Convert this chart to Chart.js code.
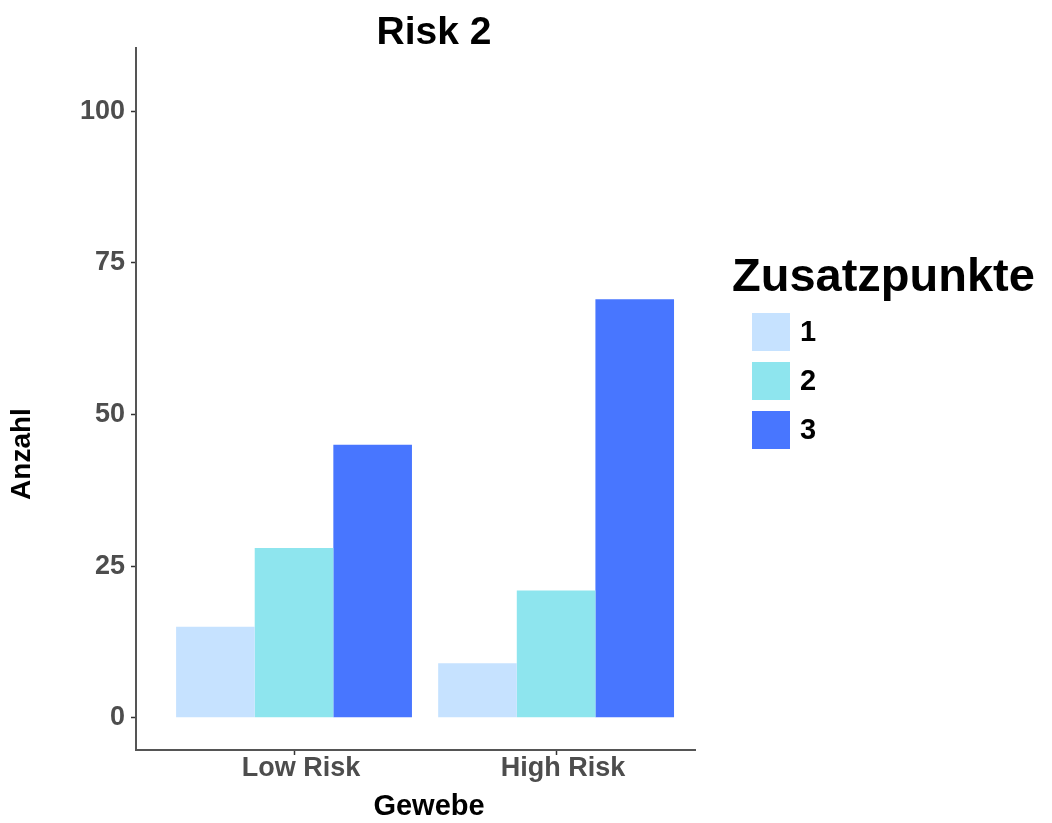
<!DOCTYPE html>
<html>
<head>
<meta charset="utf-8">
<script src="https://cdn.jsdelivr.net/npm/chart.js@4"></script>
<style>
  html, body { margin: 0; background: #fff; }
</style>
</head>
<body>
<canvas id="chart" width="1052" height="823"></canvas>
<script>
const categories = ["Low Risk", "High Risk"];
const seriesNames = ["1", "2", "3"];
const seriesColors = ["#C6E2FF", "#8EE5EE", "#4876FF"];
const counts1 = [15, 9];
const counts2 = [28, 21];
const counts3 = [45, 69];
const yTicks = [0, 25, 50, 75, 100];

const FONT = "'Liberation Sans', Arial, sans-serif";
const AXIS_GREY = "#4d4d4d";

const toPoints = (vals) => vals.map((v, i) => ({ x: i + 1, y: v }));

const datasets = [counts1, counts2, counts3].map((vals, i) => ({
  label: seriesNames[i],
  data: toPoints(vals),
  backgroundColor: seriesColors[i],
  borderWidth: 0,
  categoryPercentage: 0.9,
  barPercentage: 1,
}));

// titles and legend drawn by hand so they sit where ggplot put them
const decorations = {
  id: "decorations",
  afterDraw(chart) {
    const ctx = chart.ctx;
    ctx.save();
    ctx.fillStyle = "#000";
    ctx.textAlign = "center";
    ctx.textBaseline = "alphabetic";
    ctx.font = `bold 39px ${FONT}`;
    ctx.fillText("Risk 2", 434, 44);

    ctx.font = `bold 29px ${FONT}`;
    ctx.fillText("Gewebe", 429, 815);

    ctx.save();
    ctx.translate(22, 454);
    ctx.rotate(-Math.PI / 2);
    ctx.textBaseline = "middle";
    ctx.font = `bold 28px ${FONT}`;
    ctx.fillText("Anzahl", 0, 0);
    ctx.restore();

    ctx.textAlign = "left";
    ctx.font = `bold 47px ${FONT}`;
    ctx.fillText("Zusatzpunkte", 732, 291);

    ctx.font = `bold 29px ${FONT}`;
    ctx.textBaseline = "middle";
    chart.data.datasets.forEach((ds, i) => {
      const y = 313 + i * 49;
      ctx.fillStyle = ds.backgroundColor;
      ctx.fillRect(752, y, 38, 38);
      ctx.fillStyle = "#000";
      ctx.fillText(ds.label, 800, y + 20);
    });
    ctx.restore();
  },
};

new Chart(document.getElementById("chart"), {
  type: "bar",
  data: { datasets },
  options: {
    responsive: false,
    animation: false,
    layout: { padding: { left: 0, top: 48, right: 357, bottom: 0 } },
    plugins: {
      legend: { display: false },
      tooltip: { enabled: false },
    },
    scales: {
      x: {
        type: "linear",
        offset: false,
        min: 0.397,
        max: 2.53,
        afterBuildTicks: (scale) => {
          scale.ticks = categories.map((c, i) => ({ value: i + 1 }));
        },
        afterFit: (scale) => {
          scale.height = 73;
        },
        ticks: {
          callback: (v) => categories[v - 1],
          font: { family: FONT, size: 27, weight: "bold", lineHeight: 1 },
          color: AXIS_GREY,
          padding: 0,
          labelOffset: 7,
          maxRotation: 0,
        },
        grid: { offset: false, drawOnChartArea: false, tickLength: 5, color: "#333", tickWidth: 1.5 },
        border: { color: "#555", width: 2 },
      },
      y: {
        min: -5.3,
        max: 110.4,
        afterBuildTicks: (scale) => {
          scale.ticks = yTicks.map((v) => ({ value: v }));
        },
        afterFit: (scale) => {
          scale.width = 136;
        },
        ticks: {
          font: { family: FONT, size: 27, weight: "bold" },
          color: AXIS_GREY,
          padding: 6,
        },
        grid: { drawOnChartArea: false, tickLength: 5, color: "#333", tickWidth: 1.5 },
        border: { color: "#555", width: 2 },
      },
    },
  },
  plugins: [decorations],
});
</script>
</body>
</html>
